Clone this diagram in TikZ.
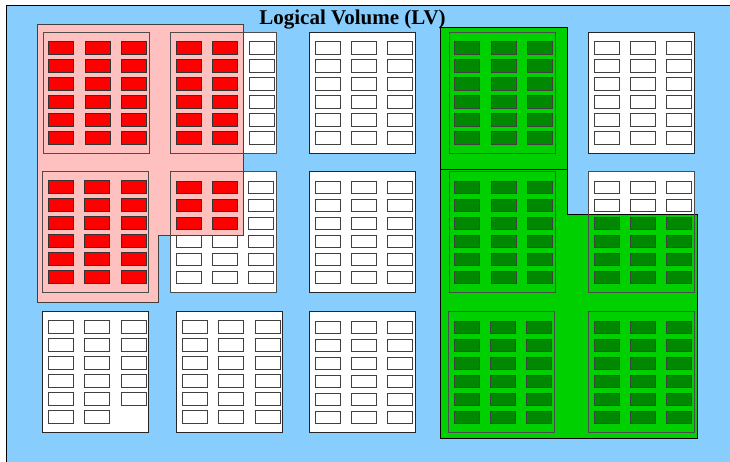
\documentclass[tikz,border=0pt]{standalone}
\usepackage{fontspec}
\setmainfont{Liberation Serif}
\definecolor{bgblue}{RGB}{135,206,255}
\definecolor{lvpink}{RGB}{255,192,192}
\definecolor{lvred}{RGB}{255,0,0}
\definecolor{lvgreen}{RGB}{0,208,0}
\definecolor{lvdkgreen}{RGB}{0,136,0}
\newcommand{\lvcells}[4]{%
  \foreach \c/\r in #4 {\draw[#3] ({#1+5.8+36.4*\c},{#2+9.4+18*\r}) rectangle ++(25,12.3);}}
\def\allcells{0/0,1/0,2/0,0/1,1/1,2/1,0/2,1/2,2/2,0/3,1/3,2/3,0/4,1/4,2/4,0/5,1/5,2/5}
\def\lastcells{0/0,1/0,2/0,0/1,1/1,2/1,0/2,1/2,2/2,0/3,1/3,2/3,0/4,1/4,2/4,0/5,1/5}
\newcommand{\lvpanel}[2]{\draw[panelbox] (#1,#2) rectangle ++(106,121);}
\newcommand{\lvframe}[2]{\draw[panelline] (#1,#2) rectangle ++(106,121);}
\begin{document}
\begin{tikzpicture}[x=1pt,y=-1pt,
  panelbox/.style={draw=black!85,line width=0.9pt,fill=white},
  panelline/.style={draw=black!70,line width=0.9pt},
  whitecell/.style={draw=black!75,line width=0.9pt,fill=white},
  redcell/.style={draw=black!80,line width=0.9pt,fill=lvred},
  greencell/.style={draw=black!75,line width=0.9pt,fill=lvdkgreen},
  pinkarea/.style={draw=black!75,line width=0.9pt,fill=lvpink},
  greenarea/.style={draw=black,line width=0.9pt,fill=lvgreen}]
\useasboundingbox (0,0) rectangle (730,461);
\fill[white] (0,0) rectangle (730,461);
\draw[fill=bgblue,line width=1pt] (6,5) rectangle (745,475);
\node[font=\fontsize{21}{24}\selectfont\bfseries,anchor=base] (title) at (352.5,24.5) {Logical Volume (LV)};
% all panels
\lvpanel{43}{32.3}\lvpanel{170.5}{32.3}\lvpanel{309.3}{32.3}\lvpanel{449}{32.3}\lvpanel{588.3}{32.3}
\lvpanel{42.5}{171.5}\lvpanel{170.3}{171.7}\lvpanel{309.3}{171.7}\lvpanel{449}{171.7}\lvpanel{588.3}{171.7}
\lvpanel{42.7}{311.3}\lvpanel{176.7}{311.3}\lvpanel{309.3}{311.7}\lvpanel{448.3}{311.7}\lvpanel{588.3}{311.7}
\lvcells{170.5}{32.3}{whitecell}{\allcells}
\lvcells{309.3}{32.3}{whitecell}{\allcells}
\lvcells{588.3}{32.3}{whitecell}{\allcells}
\lvcells{170.3}{171.7}{whitecell}{\allcells}
\lvcells{309.3}{171.7}{whitecell}{\allcells}
\lvcells{588.3}{171.7}{whitecell}{\allcells}
\lvcells{42.7}{311.3}{whitecell}{\lastcells}
\lvcells{176.7}{311.3}{whitecell}{\allcells}
\lvcells{309.3}{311.7}{whitecell}{\allcells}
% pink logical volume
\draw[pinkarea] (37,24) -- (243,24) -- (243,235) -- (158.5,235) -- (158.5,302.5) -- (37,302.5) -- cycle;
\lvframe{43}{32.3}\lvframe{170.5}{32.3}\lvframe{42.5}{171.5}\lvframe{170.3}{171.7}
\begin{scope}
\clip (37,24) -- (243,24) -- (243,235) -- (158.5,235) -- (158.5,302.5) -- (37,302.5) -- cycle;
\end{scope}
\lvcells{43}{32.3}{redcell}{\allcells}
\lvcells{42.5}{171.5}{redcell}{\allcells}
\lvcells{170.5}{32.3}{redcell}{{0/0,1/0,0/1,1/1,0/2,1/2,0/3,1/3,0/4,1/4,0/5,1/5}}
\lvcells{170.3}{171.7}{redcell}{{0/0,1/0,0/1,1/1,0/2,1/2}}
% green logical volume
\draw[greenarea] (440.5,27) rectangle (567,169);
\draw[greenarea] (440.5,169) -- (567,169) -- (567,214) -- (697,214) -- (697,438) -- (440.5,438) -- cycle;
\lvframe{449}{32.3}\lvframe{449}{171.7}\lvframe{588.3}{171.7}\lvframe{448.3}{311.7}\lvframe{588.3}{311.7}
\lvcells{449}{32.3}{greencell}{\allcells}
\lvcells{449}{171.7}{greencell}{\allcells}
\lvcells{588.3}{171.7}{greencell}{{0/2,1/2,2/2,0/3,1/3,2/3,0/4,1/4,2/4,0/5,1/5,2/5}}
\lvcells{448.3}{311.7}{greencell}{\allcells}
\lvcells{588.3}{311.7}{greencell}{\allcells}
\end{tikzpicture}
\end{document}
